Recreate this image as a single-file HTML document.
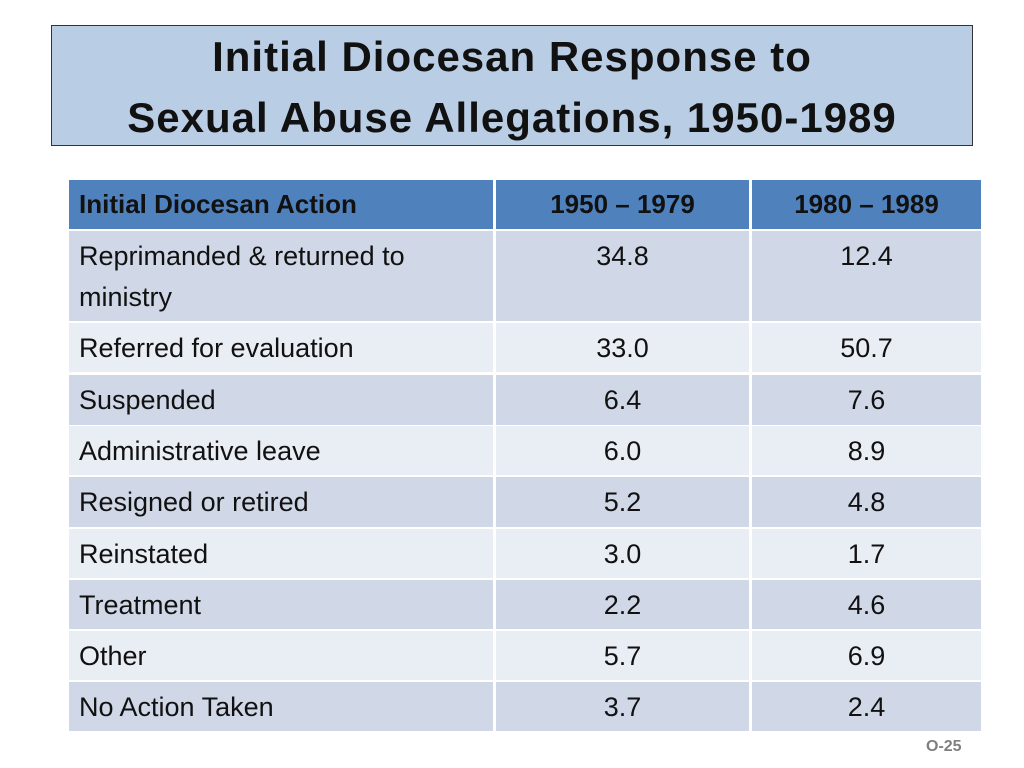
<!DOCTYPE html>
<html><head><meta charset="utf-8"><style>
body{margin:0;width:1024px;height:768px;background:#fff;font-family:"Liberation Sans",sans-serif;position:relative;overflow:hidden}
#title{position:absolute;left:51px;top:25px;width:922px;height:121px;background:#b9cde5;border:1px solid #333;text-align:center;font-weight:bold;font-size:42px;line-height:61px;color:#111;padding-top:0;box-sizing:border-box;letter-spacing:1px}
.c{position:absolute;box-sizing:border-box;font-size:27px;color:#111;line-height:41px;padding-top:5px}
.l{padding-left:10px}
.n{text-align:center}
.h{background:#4f81bd;font-weight:bold;font-size:26px;line-height:49px;padding-top:0}
.o{background:#d0d8e8}
.e{background:#e9edf4}
#pg{position:absolute;left:926px;top:738px;font-size:16px;font-weight:bold;color:#7f7f7f}
</style></head><body>
<div id="title">Initial Diocesan Response to<br>Sexual Abuse Allegations, 1950-1989</div>
<div id="tbl"></div>
<div id="pg">O-25</div>
<script>
const labels=["Initial Diocesan Action","Reprimanded &amp; returned to<br>ministry","Referred for evaluation","Suspended","Administrative leave","Resigned or retired","Reinstated","Treatment","Other","No Action Taken"];
const colA=["1950 – 1979","34.8","33.0","6.4","6.0","5.2","3.0","2.2","5.7","3.7"];
const colB=["1980 – 1989","12.4","50.7","7.6","8.9","4.8","1.7","4.6","6.9","2.4"];
const names=["header","reprimanded","referred","suspended","admin-leave","resigned","reinstated","treatment","other","no-action"];
const tops=[180,231,323,375,426,477,529,580,631,682];
const hts=[49,90,49,50,49,50,49,49,49,49];
const cx=[69,496,752], cw=[424,253,229];
const t=document.getElementById('tbl');
for(let i=0;i<labels.length;i++){
  const cls=i==0?'h':(i%2?'o':'e');
  const vals=[labels[i],colA[i],colB[i]];
  for(let j=0;j<3;j++){
    const d=document.createElement('div');
    d.className='c '+cls+(j==0?' l':' n');
    d.style.left=cx[j]+'px';d.style.top=tops[i]+'px';d.style.width=cw[j]+'px';d.style.height=hts[i]+'px';
    d.innerHTML=vals[j];
    
    
    t.appendChild(d);
  }
}
</script>
</body></html>
